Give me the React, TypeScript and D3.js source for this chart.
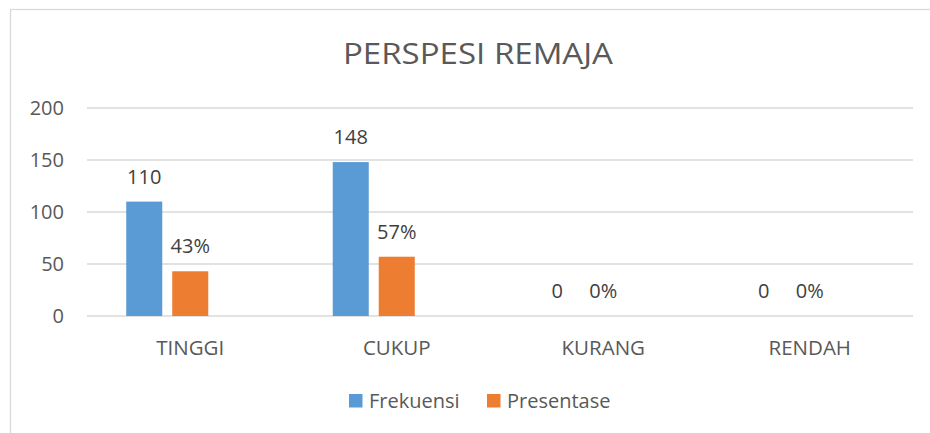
import React from "react";
import * as d3 from "d3";

const title = "PERSPESI REMAJA";
const categories = ["TINGGI", "CUKUP", "KURANG", "RENDAH"];
const seriesNames = ["Frekuensi", "Presentase"];
const frekuensi = [110, 148, 0, 0];
const presentase = [43, 57, 0, 0];
const presentaseLabels = ["43%", "57%", "0%", "0%"];
const yTicks = [0, 50, 100, 150, 200];
const colors = ["#5B9BD5", "#ED7D31"];

const W = 930;
const H = 433;
const FONT = "'Open Sans', sans-serif";
const TEXT = "#595959";

export default function App() {
  const plotLeft = 87;
  const plotRight = 913;
  const y = d3.scaleLinear().domain([0, 200]).range([316, 108]);
  const x = d3
    .scaleBand<string>()
    .domain(categories)
    .range([plotLeft, plotRight])
    .paddingInner(0.38)
    .paddingOuter(0.19);
  // third slot is an empty series slot (as in the source spreadsheet chart)
  const inner = d3
    .scaleBand<string>()
    .domain([...seriesNames, "_empty"])
    .range([0, x.bandwidth()])
    .paddingInner(0.217)
    .paddingOuter(0);

  const series = [
    { name: seriesNames[0], values: frekuensi, labels: frekuensi.map(String) },
    { name: seriesNames[1], values: presentase, labels: presentaseLabels },
  ];

  return (
    <svg
      width={W}
      height={H}
      style={{ position: "absolute", left: 0, top: 0, background: "#fff" }}
      fontFamily={FONT}
    >
      <rect x={10.5} y={9.5} width={W + 20} height={H + 20} fill="#fff" stroke="#D9D9D9" strokeWidth={1.3} />
      <text x={478} y={63.5} textAnchor="middle" fontSize={30} fill={TEXT} textLength={270} lengthAdjust="spacingAndGlyphs">
        {title}
      </text>
      {yTicks.map((t) => (
        <g key={t}>
          <line x1={plotLeft} x2={plotRight} y1={y(t)} y2={y(t)} stroke="#D9D9D9" strokeWidth={1.3} />
          <text x={64} y={y(t) + 7} textAnchor="end" fontSize={20} fill={TEXT}>
            {t}
          </text>
        </g>
      ))}
      {series.map((s, si) =>
        categories.map((c, ci) => {
          const bx = (x(c) as number) + (inner(s.name) as number);
          const bw = inner.bandwidth();
          const v = s.values[ci];
          return (
            <g key={s.name + c}>
              {v > 0 && (
                <rect x={bx} y={y(v)} width={bw} height={y(0) - y(v)} fill={colors[si]} />
              )}
              <text x={bx + bw / 2} y={y(v) - 18} textAnchor="middle" fontSize={20} fill="#404040">
                {s.labels[ci]}
              </text>
            </g>
          );
        })
      )}
      {categories.map((c) => (
        <text
          key={c}
          x={(x(c) as number) + x.bandwidth() / 2}
          y={355}
          textAnchor="middle"
          fontSize={20.5}
          fill={TEXT}
        >
          {c}
        </text>
      ))}
      {series.map((s, si) => {
        const lx = si === 0 ? 349 : 487;
        return (
          <g key={s.name}>
            <rect x={lx} y={394} width={13.5} height={13.5} fill={colors[si]} />
            <text x={lx + 20} y={408} fontSize={20} fill={TEXT}>
              {s.name}
            </text>
          </g>
        );
      })}
    </svg>
  );
}
